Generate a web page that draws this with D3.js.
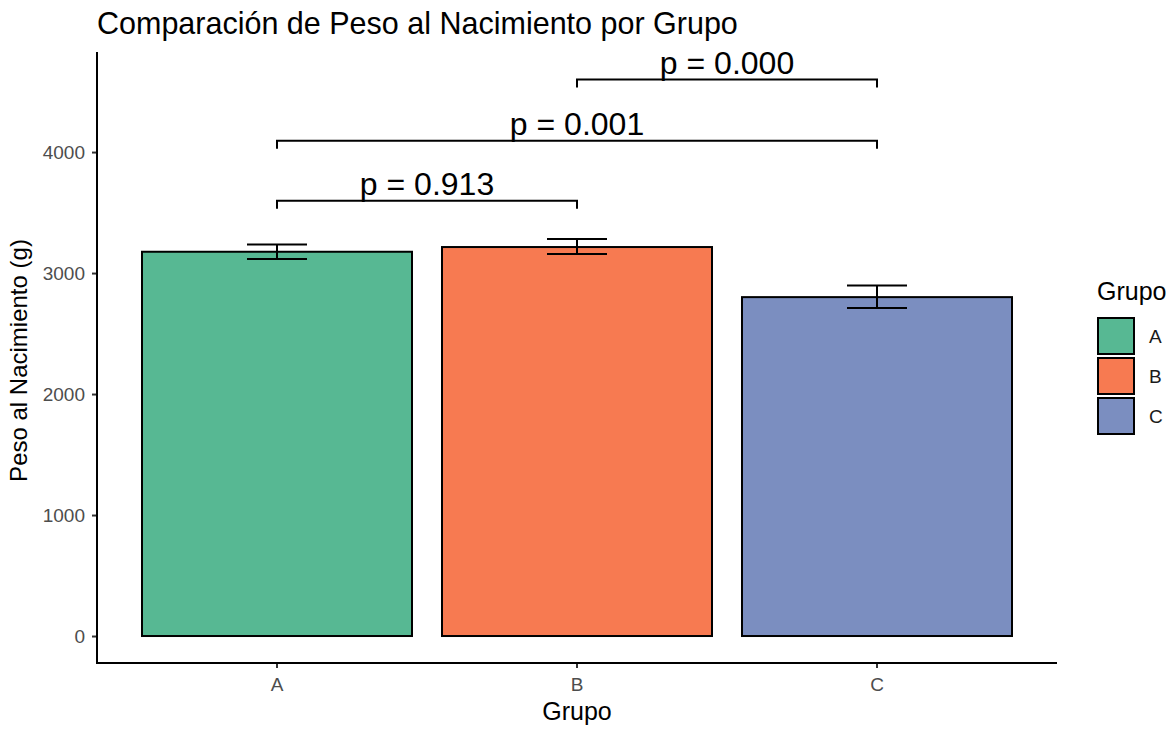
<!DOCTYPE html>
<html>
<head>
<meta charset="utf-8">
<script src="https://cdn.jsdelivr.net/npm/d3@7"></script>
<style>
  html, body { margin: 0; padding: 0; background: #fff; }
  text { font-family: "Liberation Sans", Arial, Helvetica, sans-serif; }
</style>
</head>
<body>
<svg id="chart" width="1172" height="729"></svg>
<script>
// ---- data ----
const groups = ["A", "B", "C"];
const means = [3176, 3215, 2801];
const lowers = [3117, 3157, 2711];
const uppers = [3236, 3281, 2898];
const groupColors = ["#57b893", "#f77a51", "#7b8ec0"];
const yTicks = [0, 1000, 2000, 3000, 4000];
const compGroup1 = ["A", "A", "B"];
const compGroup2 = ["B", "C", "C"];
const compY = [3598, 4094, 4599];
const compLabels = ["p = 0.913", "p = 0.001", "p = 0.000"];

const titleText = "Comparación de Peso al Nacimiento por Grupo";
const xTitle = "Grupo";
const yTitle = "Peso al Nacimiento (g)";
const legendTitle = "Grupo";

// ---- layout ----
const svg = d3.select("#chart");
const plot = { left: 97, right: 1057, top: 52, bottom: 663 };

const x = d3.scaleBand().domain(groups)
  .range([plot.left, plot.right]).paddingInner(0.1).paddingOuter(0.15);
const y = d3.scaleLinear().domain([-223, 4827]).range([plot.bottom, plot.top]);
const step = x.step();
const color = d3.scaleOrdinal().domain(groups).range(groupColors);

const bars = groups.map((g, i) => ({ g, mean: means[i], lo: lowers[i], hi: uppers[i] }));

// bars
svg.append("g").selectAll("rect").data(bars).join("rect")
  .attr("x", d => x(d.g))
  .attr("y", d => y(d.mean))
  .attr("width", x.bandwidth())
  .attr("height", d => y(0) - y(d.mean))
  .attr("fill", d => color(d.g))
  .attr("stroke", "#000").attr("stroke-width", 2);

// error bars
const eb = svg.append("g").attr("stroke", "#000").attr("stroke-width", 2).attr("fill", "none");
const capW = step * 0.2;
bars.forEach(d => {
  const cx = x(d.g) + x.bandwidth() / 2;
  eb.append("line").attr("x1", cx).attr("x2", cx).attr("y1", y(d.hi)).attr("y2", y(d.lo));
  eb.append("line").attr("x1", cx - capW / 2).attr("x2", cx + capW / 2).attr("y1", y(d.hi)).attr("y2", y(d.hi));
  eb.append("line").attr("x1", cx - capW / 2).attr("x2", cx + capW / 2).attr("y1", y(d.lo)).attr("y2", y(d.lo));
});

// y axis
const yAxis = d3.axisLeft(y).tickValues(yTicks).tickSize(5).tickPadding(7).tickFormat(d3.format("d"));
const gy = svg.append("g").attr("transform", `translate(${plot.left},0)`).call(yAxis);
gy.select(".domain").remove();
gy.append("line").attr("x1", 0).attr("x2", 0).attr("y1", plot.top).attr("y2", plot.bottom)
  .attr("stroke", "#000").attr("stroke-width", 2);
gy.selectAll(".tick line").attr("stroke", "#333").attr("stroke-width", 2);
gy.selectAll(".tick text").attr("fill", "#4d4d4d").style("font-size", "19px")
  .attr("font-family", "Liberation Sans, Arial, sans-serif");

// x axis
const xAxis = d3.axisBottom(x).tickSize(5).tickPadding(9.5);
const gx = svg.append("g").attr("transform", `translate(0,${plot.bottom})`).call(xAxis);
gx.select(".domain").remove();
gx.append("line").attr("x1", plot.left - 1).attr("x2", plot.right).attr("y1", 0).attr("y2", 0)
  .attr("stroke", "#000").attr("stroke-width", 2);
gx.selectAll(".tick line").attr("stroke", "#333").attr("stroke-width", 2);
gx.selectAll(".tick text").attr("fill", "#4d4d4d").style("font-size", "19px")
  .attr("font-family", "Liberation Sans, Arial, sans-serif");

// comparison brackets
const tip = 8;
const br = svg.append("g");
compLabels.forEach((lab, i) => {
  const x1 = x(compGroup1[i]) + x.bandwidth() / 2;
  const x2 = x(compGroup2[i]) + x.bandwidth() / 2;
  const yy = y(compY[i]);
  br.append("path")
    .attr("d", `M${x1},${yy + tip}V${yy}H${x2}V${yy + tip}`)
    .attr("fill", "none").attr("stroke", "#000").attr("stroke-width", 2);
  br.append("text").attr("x", (x1 + x2) / 2).attr("y", yy - 6)
    .attr("text-anchor", "middle").style("font-size", "32px").attr("fill", "#000")
    .text(lab);
});

// titles
svg.append("text").attr("x", 97).attr("y", 34).style("font-size", "30.5px").attr("fill", "#000").text(titleText);
svg.append("text").attr("x", (plot.left + plot.right) / 2).attr("y", 720)
  .attr("text-anchor", "middle").style("font-size", "25px").attr("fill", "#000").text(xTitle);
svg.append("text").attr("transform", `translate(27,${(plot.top + plot.bottom) / 2 + 3}) rotate(-90)`)
  .attr("text-anchor", "middle").style("font-size", "24px").attr("fill", "#000").text(yTitle);

// legend
const lg = svg.append("g").attr("transform", "translate(1097,0)");
lg.append("text").attr("x", 0).attr("y", 300).style("font-size", "25px").attr("fill", "#000").text(legendTitle);
groups.forEach((g, i) => {
  const ky = 318 + i * 40;
  lg.append("rect").attr("x", 1).attr("y", ky).attr("width", 36).attr("height", 36)
    .attr("fill", color(g)).attr("stroke", "#000").attr("stroke-width", 2);
  lg.append("text").attr("x", 52).attr("y", ky + 18).attr("dy", "0.35em")
    .style("font-size", "19px").attr("fill", "#1a1a1a").text(g);
});
</script>
</body>
</html>
